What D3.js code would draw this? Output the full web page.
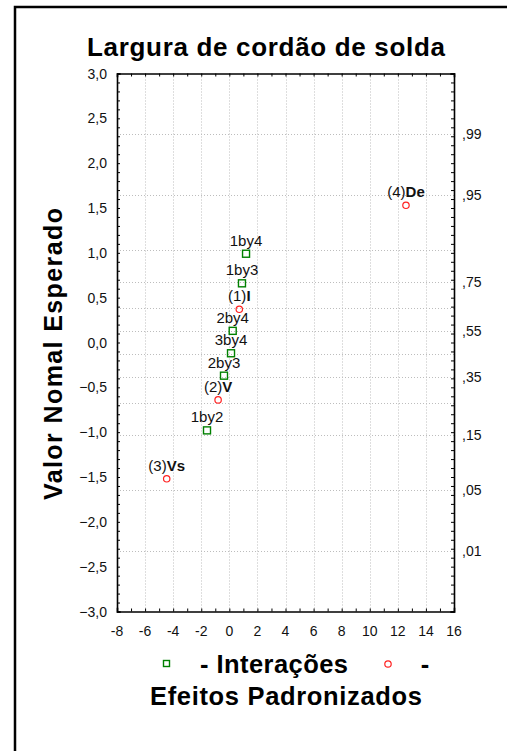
<!DOCTYPE html>
<html>
<head>
<meta charset="utf-8">
<script src="https://cdn.jsdelivr.net/npm/d3@7"></script>
<style>
  html, body { margin: 0; padding: 0; background: #fff; }
  svg { display: block; font-family: "Liberation Sans", Arial, sans-serif; }
</style>
</head>
<body>
<div id="chart"></div>
<script>
const TITLE = "Largura de cordão de solda"
const Y_TITLE = "Valor Nomal Esperado"

// points, top to bottom
const pointLabels = ["(4)De", "1by4", "1by3", "(1)I", "2by4", "3by4", "2by3", "(2)V", "1by2", "(3)Vs"]
const pointKind = ["efeito", "inter", "inter", "efeito", "inter", "inter", "inter", "efeito", "inter", "efeito"]
const effectX = [12.58, 1.19, 0.90, 0.71, 0.24, 0.12, -0.38, -0.80, -1.59, -4.46]
const expectedY = [1.53, 0.99, 0.66, 0.37, 0.13, -0.12, -0.37, -0.64, -0.98, -1.52]

const xTicks = [-8, -6, -4, -2, 0, 2, 4, 6, 8, 10, 12, 14, 16]
const yTicks = [3, 2.5, 2, 1.5, 1, 0.5, 0, -0.5, -1, -1.5, -2, -2.5, -3]
const probGrid = [0.01, 0.05, 0.15, 0.25, 0.35, 0.45, 0.55, 0.65, 0.75, 0.85, 0.95, 0.99]
const probLabels = [0.99, 0.95, 0.75, 0.55, 0.35, 0.15, 0.05, 0.01]

// inverse normal cdf (Acklam) to place the probability axis
function probit(p) {
  const a = [-39.6968302866538, 220.946098424521, -275.928510446969, 138.357751867269, -30.6647980661472, 2.50662827745924]
  const b = [-54.4760987982241, 161.585836858041, -155.698979859887, 66.8013118877197, -13.2806815528857]
  const c = [-0.00778489400243029, -0.322396458041136, -2.40075827716184, -2.54973253934373, 4.37466414146497, 2.93816398269878]
  const d = [0.00778469570904146, 0.32246712907004, 2.445134137143, 3.75440866190742]
  const lo = 0.02425
  if (p < lo) {
    const q = Math.sqrt(-2 * Math.log(p))
    return (((((c[0]*q+c[1])*q+c[2])*q+c[3])*q+c[4])*q+c[5]) / ((((d[0]*q+d[1])*q+d[2])*q+d[3])*q+1)
  }
  if (p > 1 - lo) return -probit(1 - p)
  const q = p - 0.5, r = q * q
  return (((((a[0]*r+a[1])*r+a[2])*r+a[3])*r+a[4])*r+a[5])*q / (((((b[0]*r+b[1])*r+b[2])*r+b[3])*r+b[4])*r+1)
}

const width = 507, height = 751
const plot = { left: 117, right: 454, top: 73.5, bottom: 611.5 }
const green = "#008000", red = "#ff2020"
const comma = d3.format(".1f")

const x = d3.scaleLinear().domain([-8, 16]).range([plot.left, plot.right])
const y = d3.scaleLinear().domain([-3, 3]).range([plot.bottom, plot.top])

const svg = d3.select("#chart").append("svg")
  .attr("width", width)
  .attr("height", height)

// outer frame (only left and top edges are inside the picture)
svg.append("rect")
  .attr("x", 15).attr("y", 7)
  .attr("width", 700).attr("height", 900)
  .attr("fill", "none")
  .attr("stroke", "#000")
  .attr("stroke-width", 2.5)

svg.append("text")
  .attr("x", 87).attr("y", 56)
  .attr("font-size", 26)
  .attr("font-weight", "bold")
  .attr("textLength", 358)
  .attr("lengthAdjust", "spacing")
  .text(TITLE)

// grid
const grid = svg.append("g")
  .attr("stroke", "#bdbdbd")
  .attr("stroke-width", 1)
  .attr("stroke-dasharray", "1,2")
grid.selectAll(".vg")
  .data(xTicks.slice(1, -1))
  .enter().append("line")
  .attr("x1", d => Math.round(x(d)) + 0.5).attr("x2", d => Math.round(x(d)) + 0.5)
  .attr("y1", plot.top).attr("y2", plot.bottom)
grid.selectAll(".hg")
  .data(probGrid)
  .enter().append("line")
  .attr("y1", d => Math.round(y(probit(d))) + 0.5).attr("y2", d => Math.round(y(probit(d))) + 0.5)
  .attr("x1", plot.left).attr("x2", plot.right)

// axes, ticks point inward
const axisBottom = d3.axisBottom(x).tickValues(d3.range(-8, 17, 1)).tickSize(-3).tickFormat("")
const axisTop = d3.axisTop(x).tickValues(d3.range(-8, 17, 1)).tickSize(-3).tickFormat("")
const axisLeft = d3.axisLeft(y).tickValues(d3.range(-30, 31, 1).map(v => v / 10)).tickSize(-3).tickFormat("")
const axisRight = d3.axisRight(y).tickValues(d3.range(-30, 31, 1).map(v => v / 10)).tickSize(-3).tickFormat("")

function styleAxis(g) {
  g.select(".domain").attr("stroke", "#000").attr("stroke-width", 1.6)
  g.selectAll(".tick line").attr("stroke", "#000").attr("stroke-width", 1)
}
svg.append("g").attr("transform", `translate(0,${plot.bottom})`).call(axisBottom).call(styleAxis)
svg.append("g").attr("transform", `translate(0,${plot.top})`).call(axisTop).call(styleAxis)
svg.append("g").attr("transform", `translate(${plot.left},0)`).call(axisLeft).call(styleAxis)
svg.append("g").attr("transform", `translate(${plot.right},0)`).call(axisRight).call(styleAxis)
svg.selectAll(".domain").attr("stroke-linecap", "square")

// tick labels
svg.selectAll(".ylab")
  .data(yTicks)
  .enter().append("text")
  .attr("x", 107)
  .attr("y", d => y(d) + 5)
  .attr("text-anchor", "end")
  .attr("font-size", 14)
  .attr("fill", "#111")
  .text(d => comma(d).replace(".", ","))

svg.selectAll(".xlab")
  .data(xTicks)
  .enter().append("text")
  .attr("x", d => x(d))
  .attr("y", 636)
  .attr("text-anchor", "middle")
  .attr("font-size", 14)
  .attr("fill", "#111")
  .text(d => String(d))

svg.selectAll(".plab")
  .data(probLabels)
  .enter().append("text")
  .attr("x", 462)
  .attr("y", d => y(probit(d)) + 5)
  .attr("font-size", 14)
  .attr("fill", "#111")
  .text(d => "," + String(Math.round(d * 100)).padStart(2, "0"))

svg.append("text")
  .attr("transform", `translate(62,${354}) rotate(-90)`)
  .attr("text-anchor", "middle")
  .attr("font-size", 25)
  .attr("font-weight", "bold")
  .attr("textLength", 292)
  .attr("lengthAdjust", "spacing")
  .text(Y_TITLE)

// points
const pts = pointLabels.map((label, i) => ({ label, kind: pointKind[i], x: effectX[i], y: expectedY[i] }))

svg.selectAll(".sq")
  .data(pts.filter(p => p.kind === "inter"))
  .enter().append("rect")
  .attr("x", d => x(d.x) - 3.5).attr("y", d => y(d.y) - 3.5)
  .attr("width", 7).attr("height", 7)
  .attr("fill", "none")
  .attr("stroke", green)
  .attr("stroke-width", 1.4)

svg.selectAll(".ci")
  .data(pts.filter(p => p.kind === "efeito"))
  .enter().append("circle")
  .attr("cx", d => x(d.x)).attr("cy", d => y(d.y))
  .attr("r", 3.2)
  .attr("fill", "none")
  .attr("stroke", red)
  .attr("stroke-width", 1.2)

const labelsG = svg.selectAll(".ptl")
  .data(pts)
  .enter().append("text")
  .attr("x", d => x(d.x))
  .attr("y", d => y(d.y) - 8)
  .attr("text-anchor", "middle")
  .attr("font-size", 15)
  .attr("fill", "#111")

labelsG.each(function(d) {
  const t = d3.select(this)
  const m = d.label.match(/^(\(\d\))(.*)$/)
  if (m) {
    t.append("tspan").text(m[1])
    t.append("tspan").attr("font-weight", "bold").text(m[2])
  } else {
    t.text(d.label)
  }
})

// legend
svg.append("rect")
  .attr("x", 163.5).attr("y", 660.5)
  .attr("width", 6).attr("height", 6)
  .attr("fill", "none").attr("stroke", green).attr("stroke-width", 1.4)
svg.append("text")
  .attr("x", 200).attr("y", 673)
  .attr("font-size", 25.5).attr("font-weight", "bold")
  .attr("textLength", 148).attr("lengthAdjust", "spacing")
  .text("- Interações")
svg.append("circle")
  .attr("cx", 388).attr("cy", 664).attr("r", 3.2)
  .attr("fill", "none").attr("stroke", red).attr("stroke-width", 1.2)
svg.append("text")
  .attr("x", 425).attr("y", 673)
  .attr("text-anchor", "middle")
  .attr("font-size", 25.5).attr("font-weight", "bold")
  .text("-")
svg.append("text")
  .attr("x", 150).attr("y", 705)
  .attr("font-size", 25.5).attr("font-weight", "bold")
  .attr("textLength", 272).attr("lengthAdjust", "spacing")
  .text("Efeitos Padronizados")
</script>
</body>
</html>
